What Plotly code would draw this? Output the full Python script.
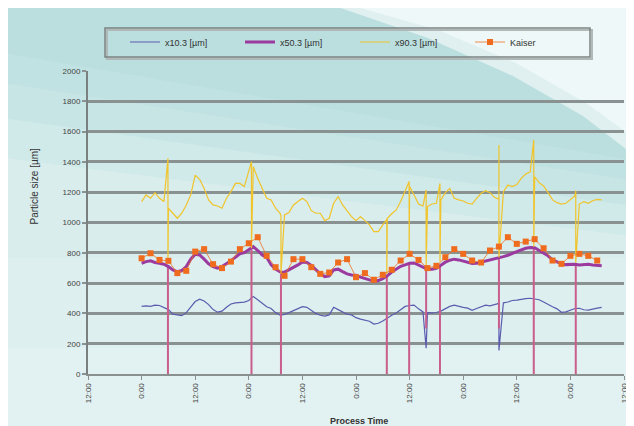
import plotly.graph_objects as go

# ---------------- data ----------------
hours = list(range(12, 116))  # process time in hours (0 = 12:00 on day 1)

x10 = [446, 450, 446, 455, 452, 440, 425, 395, 388, 385,
       405, 440, 478, 494, 482, 458, 425, 408, 415, 440,
       462, 470, 472, 475, 485, 512, 490, 465, 444, 432,
       405, 388, 393, 405, 420, 432, 445, 440, 420, 400,
       388, 382, 390, 440, 425, 410, 395, 390, 372, 362,
       356, 348, 330, 335, 350, 370, 388, 402, 424, 446,
       452, 455, 430, 410, 405, 404, 406, 415, 430, 446,
       455, 446, 440, 435, 420, 432, 446, 455, 450, 458,
       466, 470, 475, 485, 488, 494, 498, 500, 497, 490,
       475, 462, 444, 430, 407, 410, 422, 432, 434, 424,
       422, 430, 435, 440]

x50 = [731, 742, 747, 736, 731, 725, 709, 687, 676, 683,
       709, 758, 791, 786, 758, 727, 709, 698, 709, 727,
       747, 771, 793, 801, 819, 841, 815, 786, 770, 720,
       692, 674, 672, 687, 703, 720, 740, 736, 716, 687,
       661, 643, 648, 687, 692, 676, 661, 654, 652, 639,
       628, 621, 613, 617, 630, 648, 673, 692, 711, 720,
       731, 733, 718, 703, 692, 692, 698, 718, 738, 751,
       758, 753, 744, 733, 729, 731, 738, 744, 755, 758,
       764, 775, 784, 797, 809, 819, 830, 835, 834, 815,
       797, 780, 753, 738, 727, 722, 725, 725, 720, 725,
       725, 720, 716, 714]

x90 = [1138, 1182, 1160, 1197, 1160, 1138, 1094, 1061, 1028, 1061,
       1116, 1182, 1313, 1285, 1225, 1149, 1116, 1109, 1094, 1160,
       1204, 1258, 1258, 1237, 1335, 1368, 1291, 1225, 1160, 1149,
       1094, 1061, 1050, 1065, 1116, 1138, 1160, 1138, 1078, 1061,
       1061, 1012, 1028, 1127, 1171, 1116, 1078, 1039, 1012, 1039,
       1012, 984, 940, 940, 984, 1028, 1058, 1083, 1138, 1204,
       1237, 1182, 1122, 1109, 1105, 1122, 1127, 1149, 1197, 1225,
       1160, 1149, 1142, 1127, 1122, 1160, 1193, 1210, 1197, 1166,
       1153, 1204, 1247, 1237, 1250, 1291, 1320, 1335, 1302, 1263,
       1241, 1197, 1149, 1131, 1122, 1127, 1153, 1175, 1122, 1138,
       1127, 1144, 1153, 1149]

kaiser_hours = list(range(12, 116, 2))
kaiser = [764, 797, 753, 747, 666, 681, 808, 824, 725, 699, 742, 824, 863, 903, 780,
          705, 648, 758, 758, 705, 661, 670, 736, 758, 639, 666, 622, 655, 688,
          749, 793, 753, 699, 714, 771, 824, 793, 749, 736, 815, 841, 903, 859,
          874, 890, 830, 749, 727, 780, 793, 780, 749]

# measurement glitches (hours) and the values recorded during them
glitch_hours = [17.9, 36.6, 43.2, 66.9, 71.9, 75.7, 78.8, 92.0, 99.8, 109.2]
glitch_x10 = [None, None, None, None, None, 170, None, 155, None, None]
glitch_x50 = [0, 0, 0, 0, 0, 300, 0, 300, 0, 0]
glitch_x90_high = [1423, 1402, 1045, 1020, 1270, 1215, 1258, 1511, 1544, 1210]
glitch_x90_low = [745, 830, 660, 660, 786, 710, 742, 770, 840, 735]

tick_hours = list(range(0, 121, 12))
tick_text = ["12:00" if i % 2 == 0 else "0:00" for i in range(len(tick_hours))]


# ---------------- helpers ----------------
def merge(base_t, base_v, extra):
    pts = [(t, 0, v) for t, v in zip(base_t, base_v)]
    for t, vals in extra:
        for j, v in enumerate(vals):
            pts.append((t, 1 + j * 0.001, v))
    pts.sort(key=lambda p: (p[0], p[1]))
    return [p[0] for p in pts], [p[2] for p in pts]


x10_t, x10_v = merge(hours, x10, [(t, [v]) for t, v in zip(glitch_hours, glitch_x10) if v is not None])
x90_t, x90_v = merge(hours, x90, [(t, [hi, lo]) for t, hi, lo in zip(glitch_hours, glitch_x90_high, glitch_x90_low)])

spike_x, spike_y = [], []
for t, low in zip(glitch_hours, glitch_x50):
    ref = x50[hours.index(int(round(t)))]
    spike_x += [t, t, None]
    spike_y += [low, ref, None]

W, H = 634, 426
L, R, T, B = 80, 18, 63, 60
PW, PH = W - L - R, H - T - B


def pxx(p):
    return (p - L) / PW


def pxy(p):
    return (H - B - p) / PH


FONT = "Liberation Sans, Arial, sans-serif"

fig = go.Figure()
fig.add_trace(go.Scatter(x=x10_t, y=x10_v, mode="lines", name="x10.3 [µm]",
                         line=dict(color="#5c5cae", width=1.2)))
fig.add_trace(go.Scatter(x=spike_x, y=spike_y, mode="lines", showlegend=False, hoverinfo="skip",
                         line=dict(color="#c95e8c", width=2)))
fig.add_trace(go.Scatter(x=hours, y=x50, mode="lines", name="x50.3 [µm]",
                         line=dict(color="#9b3a9f", width=3)))
fig.add_trace(go.Scatter(x=x90_t, y=x90_v, mode="lines", name="x90.3 [µm]",
                         line=dict(color="#f0c42a", width=1.2)))
fig.add_trace(go.Scatter(x=kaiser_hours, y=kaiser, mode="lines+markers", name="Kaiser",
                         line=dict(color="#ee7022", width=0.8),
                         marker=dict(symbol="square", size=6, color="#ef6c1e")))


def path(points, close=True):
    s = "M " + " L ".join(f"{pxx(a):.4f},{pxy(b):.4f}" for a, b in points)
    return s + (" Z" if close else "")


edge = [(340, -5), (430, 22), (510, 56), (578, 95), (640, 140)]
shapes = []
# soft teal tint across the top of the page (stacked translucent layers)
for right_y, left_y in [(230, 150), (200, 110), (175, 75), (155, 45)]:
    shapes.append(dict(type="path", xref="paper", yref="paper", layer="below",
                       path=path([(-5, -5)] + edge + [(640, right_y), (-5, left_y)]),
                       fillcolor="rgba(150,205,205,0.12)", line=dict(width=0)))
shapes += [
    # light swoosh top right (soft edge + core)
    dict(type="path", xref="paper", yref="paper", layer="below",
         path=path([(318, -5), (640, -5), (640, 158), (575, 108), (505, 68), (420, 30)]),
         fillcolor="#e0f0f0", line=dict(width=0)),
    dict(type="path", xref="paper", yref="paper", layer="below",
         path=path([(335, -5), (640, -5), (640, 140), (578, 95), (510, 56), (430, 22)]),
         fillcolor="#eef8f8", line=dict(width=0)),
    # lighter lower part of the page
    dict(type="rect", xref="paper", yref="paper", layer="below",
         x0=pxx(-5), x1=pxx(640), y0=pxy(430), y1=pxy(250),
         fillcolor="rgba(255,255,255,0.12)", line=dict(width=0)),
    dict(type="rect", xref="paper", yref="paper", layer="below",
         x0=pxx(-5), x1=pxx(640), y0=pxy(430), y1=pxy(340),
         fillcolor="rgba(255,255,255,0.15)", line=dict(width=0)),
    # legend frame with soft shadow
    dict(type="rect", xref="paper", yref="paper", layer="above",
         x0=pxx(99), x1=pxx(584), y0=pxy(51), y1=pxy(22),
         line=dict(color="#b0b8b8", width=2), fillcolor="rgba(0,0,0,0)"),
    dict(type="rect", xref="paper", yref="paper", layer="above",
         x0=pxx(97), x1=pxx(582), y0=pxy(49), y1=pxy(20),
         line=dict(color="#7c8282", width=1.5), fillcolor="rgba(0,0,0,0)"),
]

annotations = [
    dict(text="Particle size [µm]", xref="paper", yref="paper", x=pxx(18), y=pxy(178),
         textangle=-90, showarrow=False, font=dict(family=FONT, size=10, color="#333")),
    dict(text="<b>Process Time</b>", xref="paper", yref="paper", x=pxx(351), y=pxy(420),
         showarrow=False, font=dict(family=FONT, size=9, color="#333")),
]

fig.update_layout(
    width=W, height=H,
    margin=dict(l=L, r=R, t=T, b=B, autoexpand=False),
    paper_bgcolor="#d9eded", plot_bgcolor="rgba(0,0,0,0)",
    font=dict(family=FONT, size=8, color="#333"),
    shapes=shapes, annotations=annotations,
    showlegend=True,
    legend=dict(orientation="h", x=pxx(117), xanchor="left", y=pxy(34), yanchor="middle",
                entrywidth=70, entrywidthmode="pixels", bgcolor="rgba(0,0,0,0)",
                borderwidth=0, font=dict(family=FONT, size=9, color="#333"),
                itemwidth=30),
    xaxis=dict(range=[0, 120], tickvals=tick_hours, ticktext=tick_text, tickangle=-90,
               showgrid=False, zeroline=False, showline=True, linecolor="#8a9090", linewidth=2,
               ticks="outside", ticklen=4, tickcolor="#8a9090", tickwidth=1,
               tickfont=dict(family=FONT, size=8, color="#444")),
    yaxis=dict(range=[0, 2000], dtick=200, showgrid=True, gridcolor="#8a9191", gridwidth=2.5,
               zeroline=False, showline=True, linecolor="#7a8080", linewidth=2,
               ticks="outside", ticklen=4, tickcolor="#8a9191", tickwidth=2,
               tickfont=dict(family=FONT, size=8, color="#444")),
)

fig.write_html("out.html")
